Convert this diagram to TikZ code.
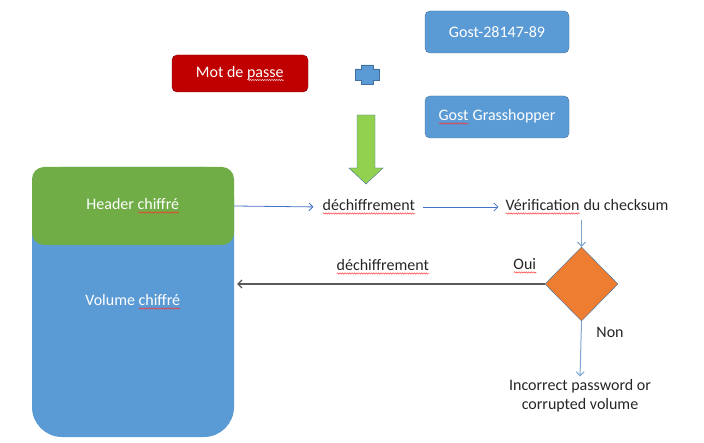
\documentclass[tikz,border=0pt]{standalone}
\usepackage{fontspec}
\setmainfont{Carlito}
\usetikzlibrary{arrows.meta, positioning, shapes.geometric, decorations.pathmorphing}
\definecolor{boxblue}{HTML}{5B9BD5}
\definecolor{boxedge}{HTML}{41719C}
\definecolor{pwred}{HTML}{C00000}
\definecolor{hdrgreen}{HTML}{70AD47}
\definecolor{arrgreen}{HTML}{92D050}
\definecolor{decorange}{HTML}{ED7D31}
\definecolor{linkblue}{HTML}{4472C4}
\definecolor{paleblue}{HTML}{7DA4CF}
\definecolor{txtgray}{HTML}{262626}
\newsavebox{\wavybox}
\newcommand{\wavy}[2][red!80!white]{\sbox{\wavybox}{#2}\rlap{\usebox{\wavybox}}\tikz[baseline=0pt]\draw[#1, sharp corners, line width=0.45pt, decorate, decoration={snake, amplitude=0.7pt, segment length=2.4pt}] (0pt,-2.8pt) -- (\wd\wavybox,-2.8pt);}

\begin{document}
\begin{tikzpicture}[x=1pt, y=-1pt, font=\fontsize{16}{19}\selectfont,
  keybox/.style={draw=boxedge, fill=boxblue, rounded corners=5pt, text=white, minimum width=144pt, minimum height=42pt},
  flowtxt/.style={text=txtgray, inner sep=2pt, align=center},
  bluelink/.style={draw=linkblue, line width=0.8pt, -{Straight Barb[length=4pt, width=8pt]}},
  palelink/.style={draw=paleblue, line width=1pt, -{Straight Barb[length=4pt, width=8pt]}}]
  \useasboundingbox (0,0) rectangle (704,443);

  % Password and ciphers
  \node[keybox] (gost) at (497,32) {Gost-28147-89};
  \node[keybox] (grass) at (497,117) {\wavy{Gost} Grasshopper};
  \node[keybox, fill=pwred, draw=pwred!70!black, minimum width=136pt, minimum height=37pt] (pwd) at (240,73.5) {Mot de \wavy[white!85!pwred]{passe}};
  \draw[boxedge, fill=boxblue, shift={(367,74.5)}] (-6,-9.5) -- (6,-9.5) -- (6,-5.5) -- (12,-5.5) -- (12,5.5) -- (6,5.5) -- (6,9.5) -- (-6,9.5) -- (-6,5.5) -- (-12,5.5) -- (-12,-5.5) -- (-6,-5.5) -- cycle;
  \draw[boxedge, fill=arrgreen] (357,115) -- (375,115) -- (375,168) -- (383,168) -- (366,184) -- (349,168) -- (357,168) -- cycle;

  % Encrypted volume
  \node[fill=boxblue, rounded corners=30pt, minimum width=202pt, minimum height=270pt, text=white] (vol) at (133,302) {Volume \wavy{chiffré}};
  \node[fill=hdrgreen, rounded corners=12pt, minimum width=202pt, minimum height=78pt, text=white] (hdr) at (133,206) {Header \wavy{chiffré}};

  % Header check
  \node[flowtxt] (dec1) at (369,207) {\wavy{déchiffrement}};
  \node[flowtxt] (check) at (587,207) {\wavy{Vérification} du checksum};
  \node[diamond, fill=decorange, draw=boxedge, inner sep=0pt, minimum width=73pt, minimum height=74pt] (test) at (581.5,284) {};
  \node[flowtxt] (dec2) at (383,267) {\wavy{déchiffrement}};
  \node[flowtxt] (yes) at (525,266) {\wavy{Oui}};
  \node[flowtxt] (no) at (610,332) {Non};
  \node[flowtxt] (fail) at (580,396) {Incorrect password or\\corrupted volume};

  \draw[bluelink, shorten >=7pt] (hdr.east) -- (dec1.west);
  \draw[bluelink, shorten <=5pt, shorten >=5pt] (dec1.east) -- (check.west);
  \draw[palelink, shorten <=3pt] (test.north |- check.south) -- (test.north);
  \draw[draw=black!65, line width=1.2pt, -{Straight Barb[length=4pt, width=8pt]}, shorten >=3pt] (test.west) -- (vol.east |- test.west);
  \draw[palelink, shorten >=1pt] (test.south) -- (fail.north);
\end{tikzpicture}
\end{document}
